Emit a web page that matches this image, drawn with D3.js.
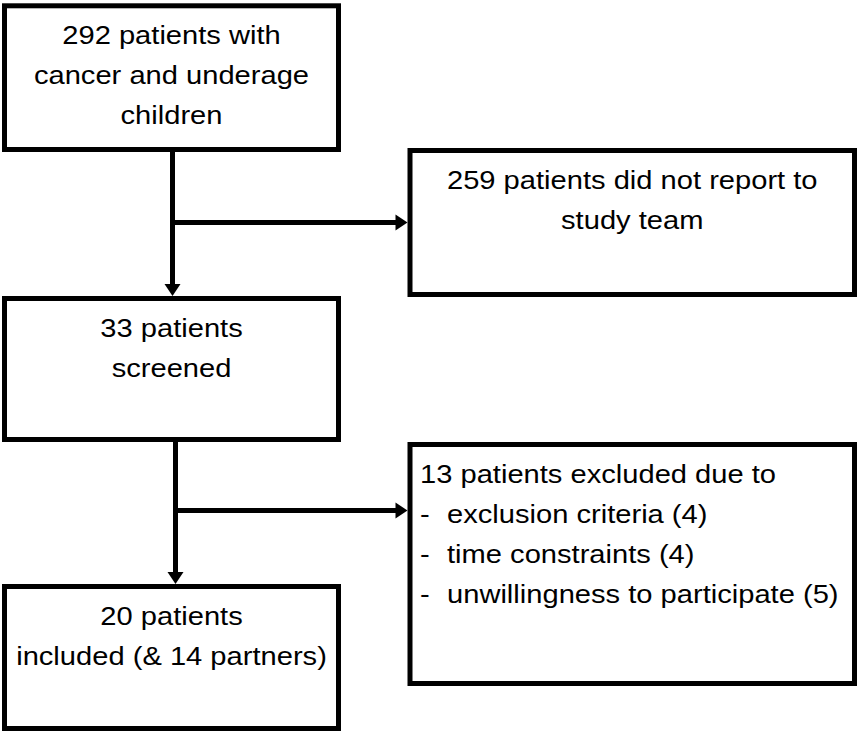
<!DOCTYPE html>
<html>
<head>
<meta charset="utf-8">
<script src="https://cdn.jsdelivr.net/npm/d3@7"></script>
<style>
  body { margin: 0; background: #fff; }
  text { font-family: "Liberation Sans", Arial, Helvetica, sans-serif; font-size: 26px; fill: #000; }
</style>
</head>
<body>
<div class="flow"></div>
<script>
// flow counts and labels
const mainLabels = [
    ["292 patients with", "cancer and underage", "children"],
    ["33 patients", "screened"],
    ["20 patients", "included (& 14 partners)"]
];
const sideLabels = ["259 patients did not report to", "study team"];
const exclusionHeader = "13 patients excluded due to";
const exclusionReasons = ["exclusion criteria", "time constraints", "unwillingness to participate"];
const exclusionCounts = [4, 4, 5];

const width = 857, height = 731;
const stroke = 5;
const lineGap = 40, firstLine = 38.5;
const textStretch = 1.12;

// box frames (stroke centre lines)
const frames = {
    main: [
        {x0: 4.5, x1: 338.5, y0: 5.8, y1: 149.5},
        {x0: 4.5, x1: 338.5, y0: 298.5, y1: 439.5},
        {x0: 4.5, x1: 338.5, y0: 586.5, y1: 728.5}
    ],
    side: [
        {x0: 410, x1: 854.5, y0: 150.5, y1: 294.5},
        {x0: 410, x1: 854.5, y0: 444.5, y1: 683.5}
    ]
};

const svg = d3.select(".flow").append("svg")
    .attr("width", width)
    .attr("height", height);

function addText(g, str, x, y, anchor) {
    g.append("text")
        .attr("transform", `translate(${x},${y}) scale(${textStretch},1)`)
        .attr("text-anchor", anchor)
        .text(str);
}

function drawBox(f) {
    svg.append("rect")
        .attr("x", f.x0).attr("y", f.y0)
        .attr("width", f.x1 - f.x0).attr("height", f.y1 - f.y0)
        .attr("fill", "#fff")
        .attr("stroke", "#000")
        .attr("stroke-width", stroke);
}

// -------------------------
// connectors
// -------------------------
const headLen = 12, headHalf = 8;

function arrowDown(x, y0, y1) {
    svg.append("line")
        .attr("x1", x).attr("y1", y0)
        .attr("x2", x).attr("y2", y1 - headLen + 1)
        .attr("stroke", "#000").attr("stroke-width", stroke);
    svg.append("path")
        .attr("d", `M${x - headHalf},${y1 - headLen}L${x + headHalf},${y1 - headLen}L${x},${y1}Z`)
        .attr("fill", "#000");
}

function arrowRight(x0, x1, y) {
    svg.append("line")
        .attr("x1", x0 - stroke / 2).attr("y1", y)
        .attr("x2", x1 - headLen + 1).attr("y2", y)
        .attr("stroke", "#000").attr("stroke-width", stroke);
    svg.append("path")
        .attr("d", `M${x1 - headLen},${y - headHalf}L${x1 - headLen},${y + headHalf}L${x1},${y}Z`)
        .attr("fill", "#000");
}

const m = frames.main, s = frames.side;
arrowDown(172.5, m[0].y1, m[1].y0 - stroke / 2);
arrowRight(172.5, s[0].x0 - stroke / 2, (s[0].y0 + s[0].y1) / 2);
arrowDown(175.5, m[1].y1, m[2].y0 - stroke / 2);
arrowRight(175.5, s[1].x0 - stroke / 2, 510.5);

// -------------------------
// boxes + labels
// -------------------------
m.forEach((f, i) => {
    drawBox(f);
    const cx = (f.x0 + f.x1) / 2;
    const g = svg.append("g");
    mainLabels[i].forEach((t, j) => addText(g, t, cx, f.y0 + firstLine + j * lineGap, "middle"));
});

drawBox(s[0]);
const g2 = svg.append("g");
sideLabels.forEach((t, j) =>
    addText(g2, t, (s[0].x0 + s[0].x1) / 2, s[0].y0 + firstLine + j * lineGap, "middle"));

drawBox(s[1]);
const g4 = svg.append("g");
const padL = 10, bulletIndent = 37;
addText(g4, exclusionHeader, s[1].x0 + padL, s[1].y0 + firstLine, "start");
exclusionReasons.forEach((r, j) => {
    const y = s[1].y0 + firstLine + (j + 1) * lineGap;
    addText(g4, "-", s[1].x0 + padL, y, "start");
    addText(g4, `${r} (${exclusionCounts[j]})`, s[1].x0 + bulletIndent, y, "start");
});
</script>
</body>
</html>
